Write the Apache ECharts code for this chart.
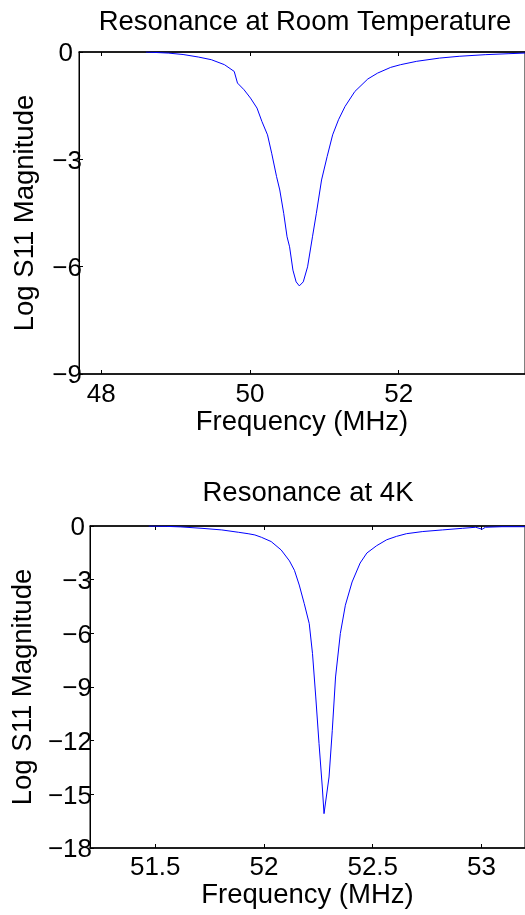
<!DOCTYPE html>
<html>
<head>
<meta charset="utf-8">
<script src="https://cdn.jsdelivr.net/npm/echarts@6/dist/echarts.min.js"></script>
<style>
  html, body { margin: 0; padding: 0; background: #fff; }
  #chart { width: 525px; height: 915px; }
</style>
</head>
<body>
<div id="chart"></div>
<script>
// room temperature sweep (MHz, log S11)
const roomFreq = [48.6, 48.9, 49.1, 49.305, 49.48, 49.657, 49.788, 49.809, 49.832, 49.92, 50.007, 50.095, 50.161, 50.236, 50.292, 50.358, 50.401, 50.454, 50.499, 50.533, 50.578, 50.621, 50.664, 50.717, 50.775, 50.841, 50.893, 50.963, 51.038, 51.112, 51.191, 51.279, 51.411, 51.585, 51.717, 51.893, 52.025, 52.243, 52.551, 52.814, 53.164, 53.472, 53.7]
const roomMag = [0, -0.03, -0.07, -0.14, -0.215, -0.355, -0.543, -0.588, -0.868, -1.055, -1.288, -1.568, -1.943, -2.316, -2.829, -3.484, -3.857, -4.51, -5.165, -5.445, -6.097, -6.425, -6.537, -6.425, -6.005, -5.165, -4.51, -3.577, -2.925, -2.316, -1.894, -1.522, -1.103, -0.755, -0.59, -0.43, -0.355, -0.26, -0.17, -0.12, -0.075, -0.048, -0.03]

// 4K sweep
const coldFreq = [51.47, 51.55, 51.617, 51.715, 51.806, 51.882, 51.927, 51.958, 51.988, 52.033, 52.079, 52.117, 52.14, 52.162, 52.185, 52.208, 52.223, 52.238, 52.253, 52.268, 52.276, 52.299, 52.314, 52.329, 52.351, 52.374, 52.405, 52.442, 52.473, 52.518, 52.564, 52.609, 52.655, 52.73, 52.82, 52.912, 52.973, 53.003, 53.018, 53.094, 53.2]
const coldMag = [0, -0.02, -0.05, -0.13, -0.22, -0.35, -0.43, -0.5, -0.63, -0.87, -1.34, -1.95, -2.476, -3.3, -4.338, -5.456, -7.133, -9.558, -12.16, -14.59, -16.08, -14.03, -11.42, -8.44, -6.01, -4.43, -3.13, -2.07, -1.51, -1.1, -0.77, -0.58, -0.43, -0.31, -0.22, -0.13, -0.07, -0.18, -0.07, -0.04, -0.04]

// tick positions
const roomTicks = [48, 50, 52]
const coldTicks = [51.5, 52, 52.5, 53]

const FONT = 'Liberation Sans'
const SIZE = 26
const BIG = 27.5

const pairs = (xs, ys) => xs.map((x, i) => [x, ys[i]])

// bottom axis with labels and name, plus a bare top axis for the inner ticks
const xAxes = (grid, min, max, ticks, gap, margin) => [
    {
        gridIndex: grid, type: 'value', min: min, max: max, position: 'bottom',
        name: 'Frequency (MHz)', nameLocation: 'middle', nameGap: gap,
        nameTextStyle: { color: '#000', fontSize: BIG, fontFamily: FONT },
        axisLine: { show: true, onZero: false, lineStyle: { color: '#000', width: 1.5 } },
        axisTick: { show: true, inside: true, length: 4, customValues: ticks, lineStyle: { color: '#000' } },
        axisLabel: { show: true, margin: margin, customValues: ticks, color: '#000', fontSize: SIZE, fontFamily: FONT },
        splitLine: { show: false }
    },
    {
        gridIndex: grid, type: 'value', min: min, max: max, position: 'top',
        axisLine: { show: true, onZero: false, lineStyle: { color: '#000', width: 1.5 } },
        axisTick: { show: true, inside: true, length: 4, customValues: ticks, lineStyle: { color: '#000' } },
        axisLabel: { show: false },
        splitLine: { show: false }
    }
]

const yAxis = (grid, min, gap, margin, zeroPad) => ({
    gridIndex: grid, type: 'value', min: min, max: 0, interval: 3,
    name: 'Log S11 Magnitude', nameLocation: 'middle', nameGap: gap,
    nameTextStyle: { color: '#000', fontSize: BIG, fontFamily: FONT },
    axisLine: { show: true, onZero: false, lineStyle: { color: '#000', width: 1 } },
    axisTick: { show: true, inside: true, length: 4, lineStyle: { color: '#000' } },
    axisLabel: {
        margin: margin,
        formatter: v => v === 0 ? '{z|0}' : '{n|\u2212' + Math.abs(v) + '}',
        rich: {
            z: { color: '#000', fontSize: SIZE, fontFamily: FONT, padding: [4, zeroPad, 0, 0] },
            n: { color: '#000', fontSize: SIZE, fontFamily: FONT, padding: [4, 0, 0, 0] }
        }
    },
    splitLine: { show: false }
})

const titleStyle = { color: '#000', fontSize: BIG, fontWeight: 'normal', fontFamily: FONT }

const option = {
    animation: false,
    backgroundColor: '#fff',
    title: [
        { text: 'Resonance at Room Temperature', left: 305, top: 8, textAlign: 'center', padding: 0, textStyle: titleStyle },
        { text: 'Resonance at 4K', left: 308, top: 479, textAlign: 'center', padding: 0, textStyle: titleStyle }
    ],
    grid: [
        { left: 79, top: 52, width: 454, height: 322, show: true, borderColor: '#000', borderWidth: 1 },
        { left: 90, top: 526, width: 440, height: 322, show: true, borderColor: '#000', borderWidth: 1 }
    ],
    xAxis: [
        ...xAxes(0, 47.7, 53.7, roomTicks, 33, 8),
        ...xAxes(1, 51.2, 53.2, coldTicks, 33, 7)
    ],
    yAxis: [
        yAxis(0, -9, 40, -3, 9),
        yAxis(1, -18, 53, -2, 7)
    ],
    series: [
        {
            type: 'line', xAxisIndex: 0, yAxisIndex: 0,
            data: pairs(roomFreq, roomMag),
            showSymbol: false, lineStyle: { color: '#0000ff', width: 1 }
        },
        {
            type: 'line', xAxisIndex: 2, yAxisIndex: 1,
            data: pairs(coldFreq, coldMag),
            showSymbol: false, lineStyle: { color: '#0000ff', width: 1 }
        }
    ]
}

const chart = echarts.init(document.getElementById('chart'))
chart.setOption(option)
</script>
</body>
</html>
